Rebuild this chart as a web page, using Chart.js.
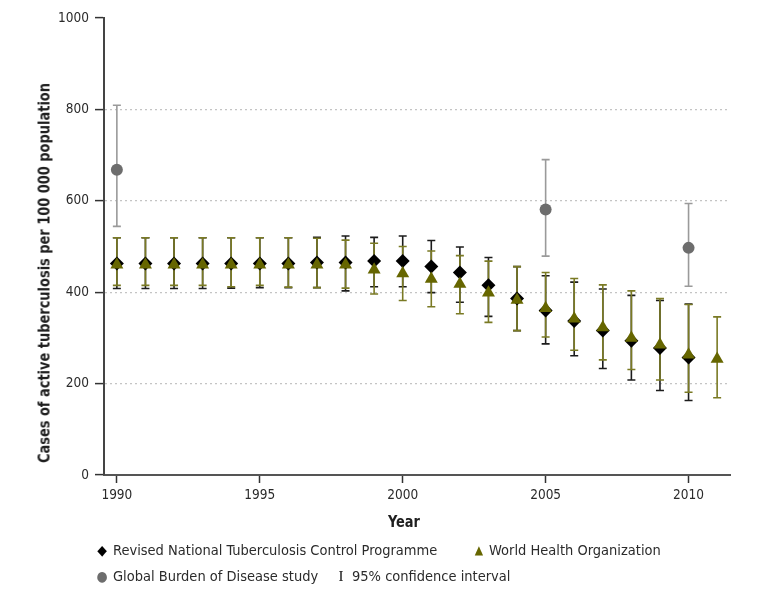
<!DOCTYPE html>
<html>
<head>
<meta charset="utf-8">
<script src="https://cdn.jsdelivr.net/npm/chart.js@4.4.1/dist/chart.umd.min.js"></script>
<style>
  html, body { margin: 0; padding: 0; background: #fff; }
  #wrap { position: relative; width: 771px; height: 593px; overflow: hidden;
          font-family: 'DejaVu Sans Condensed', 'Liberation Sans Narrow', sans-serif; color: #2b2b2b; }
  #c { position: absolute; left: 0; top: 0; }
  .ytitle { position: absolute; left: 44px; top: 273px; transform: translate(-50%, -50%) rotate(-90deg) scaleX(0.9);
            white-space: nowrap; font-weight: bold; font-size: 16px; color: #1e1e1e; }
  .xtitle { position: absolute; left: 404px; top: 521px; transform: translate(-50%, -50%) scaleX(0.9);
            white-space: nowrap; font-weight: bold; font-size: 16px; color: #1e1e1e; }
  .leg { position: absolute; white-space: nowrap; font-size: 14.5px; line-height: 18px; transform: translateY(-50%); }
  .sym { position: absolute; white-space: nowrap; transform: translate(-50%, -50%); line-height: 1; }
</style>
</head>
<body>
<div id="wrap">
  <canvas id="c" width="771" height="593"></canvas>
  <div class="ytitle">Cases of active tuberculosis per 100 000 population</div>
  <div class="xtitle">Year</div>
  <div class="sym" style="left:102px; top:550px; color:#000; font-size:14px;">◆</div>
  <div class="leg" style="left:113px; top:550px;">Revised National Tuberculosis Control Programme</div>
  <div class="sym" style="left:479px; top:550px; color:#666600; font-size:12px;">▲</div>
  <div class="leg" style="left:489px; top:550px;">World Health Organization</div>
  <div class="sym" style="left:102px; top:576px; color:#6d6d6d; font-size:14px;">●</div>
  <div class="leg" style="left:113px; top:576px;">Global Burden of Disease study</div>
  <div class="sym" style="left:341px; top:576px; color:#111; font-size:15px; font-family:'Liberation Serif','DejaVu Serif',serif;">I</div>
  <div class="leg" style="left:352px; top:576px;">95% confidence interval</div>
</div>
<script>
// ---------------- data ----------------
const years = [1990, 1991, 1992, 1993, 1994, 1995, 1996, 1997, 1998, 1999, 2000,
               2001, 2002, 2003, 2004, 2005, 2006, 2007, 2008, 2009, 2010, 2011];

// Revised National Tuberculosis Control Programme (1990-2010)
const rntcpYears = years.slice(0, 21);
const rntcp     = [463, 463, 463, 463, 463, 463, 463, 465, 465, 468, 468, 456, 443, 415, 386, 360, 337, 316, 294, 278, 257];
const rntcpLow  = [408, 408, 408, 408, 409, 410, 410, 410, 403, 412, 412, 399, 378, 347, 316, 287, 261, 233, 208, 185, 163];
const rntcpHigh = [519, 519, 519, 519, 519, 519, 519, 520, 523, 520, 523, 513, 499, 476, 456, 436, 422, 407, 393, 382, 374];

// World Health Organization (1990-2011)
const who     = [460, 460, 460, 460, 460, 460, 460, 460, 460, 449, 441, 429, 418, 399, 383, 365, 342, 323, 300, 285, 263, 254];
const whoLow  = [415, 415, 415, 415, 412, 415, 411, 410, 409, 396, 382, 368, 353, 334, 316, 302, 273, 252, 231, 208, 181, 169];
const whoHigh = [519, 519, 519, 519, 519, 519, 519, 518, 514, 507, 500, 490, 480, 468, 456, 443, 430, 416, 403, 386, 373, 346];

// Global Burden of Disease study
const gbdYears = [1990, 2005, 2010];
const gbd      = [668, 581, 497];
const gbdLow   = [544, 479, 413];
const gbdHigh  = [809, 690, 594];

const xTicks = [1990, 1995, 2000, 2005, 2010];
const yTicks = [0, 200, 400, 600, 800, 1000];

// ---------------- helpers ----------------
const pts = (xs, ys) => xs.map((x, i) => ({ x: x, y: ys[i] }));

const ciSets = [
  { xs: rntcpYears, lo: rntcpLow, hi: rntcpHigh, color: '#1c1c1c' },
  { xs: years,      lo: whoLow,   hi: whoHigh,   color: '#7a7a24' },
  { xs: gbdYears,   lo: gbdLow,   hi: gbdHigh,   color: '#9a9a9a' }
];

const errorBars = {
  id: 'errorBars',
  beforeDatasetsDraw(chart) {
    const { ctx, scales: { x, y } } = chart;
    ctx.save();
    ctx.lineWidth = 1.6;
    ciSets.forEach(s => {
      ctx.strokeStyle = s.color;
      s.xs.forEach((xv, i) => {
        const px = x.getPixelForValue(xv);
        const pl = y.getPixelForValue(s.lo[i]);
        const ph = y.getPixelForValue(s.hi[i]);
        ctx.beginPath();
        ctx.moveTo(px, pl); ctx.lineTo(px, ph);
        ctx.moveTo(px - 4, pl); ctx.lineTo(px + 4, pl);
        ctx.moveTo(px - 4, ph); ctx.lineTo(px + 4, ph);
        ctx.stroke();
      });
    });
    ctx.restore();
  }
};

Chart.defaults.font.family = "'DejaVu Sans Condensed', 'Liberation Sans Narrow', sans-serif";
Chart.defaults.color = '#2b2b2b';

new Chart(document.getElementById('c'), {
  type: 'scatter',
  data: {
    datasets: [
      { label: 'World Health Organization', data: pts(years, who), order: 0,
        pointStyle: 'triangle', radius: 7.5, backgroundColor: '#666600', borderColor: '#666600', borderWidth: 0 },
      { label: 'Revised National Tuberculosis Control Programme', data: pts(rntcpYears, rntcp), order: 1,
        pointStyle: 'rectRot', radius: 7, backgroundColor: '#000', borderColor: '#000', borderWidth: 0 },
      { label: 'Global Burden of Disease study', data: pts(gbdYears, gbd), order: 2,
        pointStyle: 'circle', radius: 6, backgroundColor: '#6d6d6d', borderColor: '#6d6d6d', borderWidth: 0 }
    ]
  },
  options: {
    responsive: false,
    animation: false,
    devicePixelRatio: 1,
    layout: { padding: { left: 0, top: 18, right: 41, bottom: 88 } },
    plugins: { legend: { display: false }, tooltip: { enabled: false } },
    scales: {
      x: {
        type: 'linear', min: 1989.55, max: 2011.45,
        afterBuildTicks: s => { s.ticks = xTicks.map(v => ({ value: v })); },
        afterFit: s => { s.height = 30; },
        ticks: { callback: v => String(v), font: { size: 13.5 }, color: '#2b2b2b', padding: 4, maxRotation: 0, autoSkip: false },
        grid: { drawOnChartArea: false, drawTicks: true, tickLength: 8, tickColor: '#333', tickWidth: 1.5 },
        border: { display: true, color: '#555', width: 2 }
      },
      y: {
        type: 'linear', min: 0, max: 1000,
        afterBuildTicks: s => { s.ticks = yTicks.map(v => ({ value: v })); },
        afterFit: s => { s.width = 104; },
        ticks: { callback: v => String(v), font: { size: 13.5 }, color: '#2b2b2b', padding: 6 },
        grid: {
          drawTicks: true, tickLength: 9, tickWidth: 1.5, tickColor: '#333', lineWidth: 1.2,
          color: c => (c.tick && c.tick.value > 0 && c.tick.value < 1000) ? '#c4c4c4' : 'rgba(0,0,0,0)'
        },
        border: { display: true, color: '#444', width: 2, dash: [2, 3] }
      }
    }
  },
  plugins: [errorBars]
});
</script>
</body>
</html>
